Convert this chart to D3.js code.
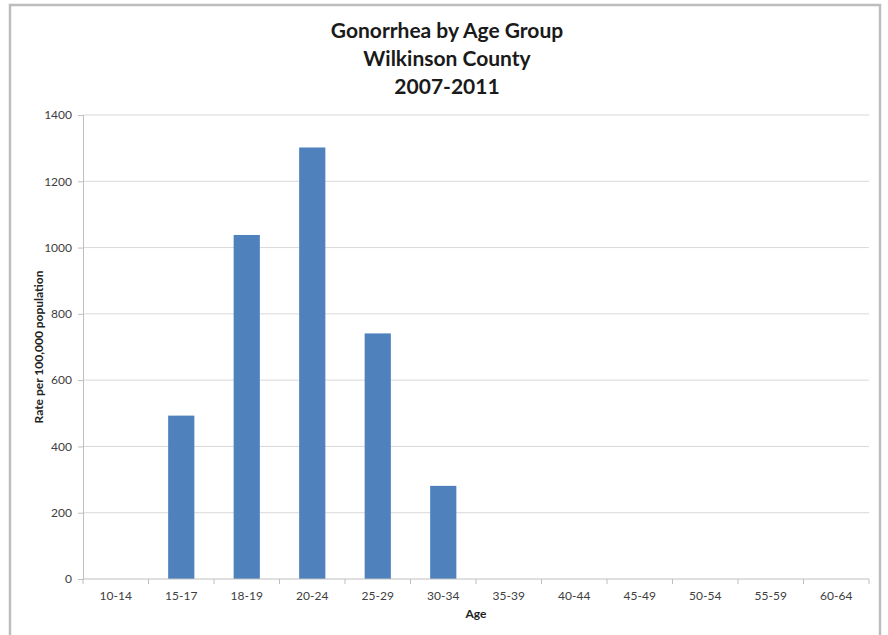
<!DOCTYPE html>
<html><head><meta charset="utf-8">
<script src="https://cdn.jsdelivr.net/npm/d3@7"></script>
<style>body{margin:0;background:#fff;} svg{display:block;}</style>
</head><body>
<svg id="c" width="888" height="635"></svg>
<script>
const categories = ["10-14","15-17","18-19","20-24","25-29","30-34","35-39","40-44","45-49","50-54","55-59","60-64"];
const values = [0,493,1038,1302,741,281,0,0,0,0,0,0];
const yTicks = [0,200,400,600,800,1000,1200,1400];
const titleLines = ["Gonorrhea by Age Group","Wilkinson County","2007-2011"];

const svg = d3.select("#c");
const font = "Lato, 'Open Sans', 'Liberation Sans', sans-serif";
const L = 83, R = 869, T = 115, B = 579;

// frame
svg.append("path").attr("d","M10,640 L10,5 L880,5 L880,640")
  .attr("fill","none").attr("stroke","#bdbdbd").attr("stroke-width",2.5);

const x = d3.scaleBand().domain(categories).range([L,R]).paddingInner(0.6).paddingOuter(0.3);
const y = d3.scaleLinear().domain([0,1400]).range([B,T]);

// gridlines
svg.append("g").selectAll("line").data(yTicks.filter(d=>d>0)).join("line")
  .attr("x1",L).attr("x2",R).attr("y1",d=>y(d)).attr("y2",d=>y(d))
  .attr("stroke","#d9d9d9").attr("stroke-width",1);

// bars
svg.append("g").selectAll("rect").data(values).join("rect")
  .attr("x",(d,i)=>x(categories[i])).attr("width",x.bandwidth())
  .attr("y",d=>y(d)).attr("height",d=>B-y(d)).attr("fill","#4f81bd");

// y axis
const ya = svg.append("g").attr("transform",`translate(${L},0)`)
  .call(d3.axisLeft(y).tickValues(yTicks).tickFormat(d3.format("d")).tickSize(5).tickPadding(6));
ya.select(".domain").attr("stroke","#bfbfbf");
ya.selectAll(".tick line").attr("stroke","#bfbfbf");
ya.selectAll("text").attr("font-family",font).attr("font-size",12).attr("fill","#404040");

// x axis
const step = (R-L)/categories.length;
const xa = svg.append("g").attr("transform",`translate(0,${B})`);
xa.append("line").attr("x1",L).attr("x2",R).attr("stroke","#bfbfbf");
xa.selectAll(".tk").data(d3.range(categories.length+1)).join("line")
  .attr("x1",i=>L+i*step).attr("x2",i=>L+i*step).attr("y1",0).attr("y2",5).attr("stroke","#bfbfbf");
xa.selectAll("text").data(categories).join("text")
  .attr("x",d=>x(d)+x.bandwidth()/2).attr("y",21).attr("text-anchor","middle")
  .attr("font-family",font).attr("font-size",12).attr("fill","#404040").text(d=>d);

// axis titles
svg.append("text").attr("x",(L+R)/2).attr("y",618).attr("text-anchor","middle")
  .attr("font-family",font).attr("font-weight","bold").attr("font-size",12).attr("fill","#222").text("Age");
svg.append("text").attr("transform",`translate(43,${(T+B)/2}) rotate(-90)`).attr("text-anchor","middle")
  .attr("font-family",font).attr("font-weight","bold").attr("font-size",12).attr("fill","#222").text("Rate per 100,000 population");

// title
svg.append("g").selectAll("text").data(titleLines).join("text")
  .attr("x",447).attr("y",(d,i)=>38+i*28).attr("text-anchor","middle")
  .attr("font-family",font).attr("font-weight","bold").attr("font-size",21).attr("fill","#1a1a1a").text(d=>d);
</script>
</body></html>
